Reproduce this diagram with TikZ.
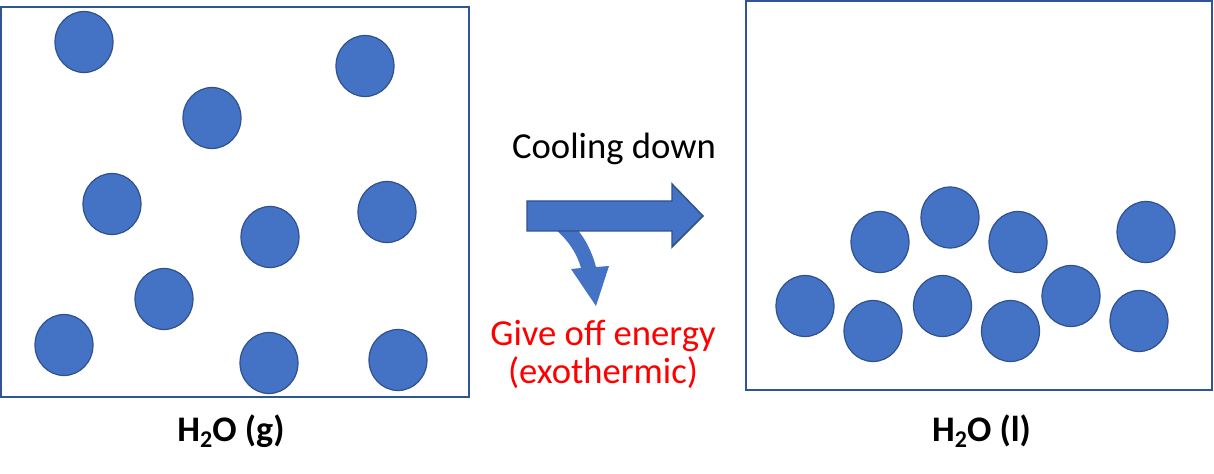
\documentclass[tikz,border=0pt]{standalone}
\usepackage{fontspec}
\setmainfont{Carlito}
\usetikzlibrary{shapes.geometric}
\definecolor{molfill}{HTML}{4472C4}
\definecolor{molline}{HTML}{2F528F}
\definecolor{boxline}{HTML}{2F5597}
\definecolor{txtred}{HTML}{FF0000}
\newcommand{\subtwo}{\raisebox{-5pt}{\fontsize{18}{18}\selectfont 2}}
\tikzset{
  mol/.style={ellipse,minimum width=43.5pt,minimum height=45.75pt,inner sep=0pt,fill=molfill,draw=molline,line width=0.9pt},
  container/.style={draw=boxline,line width=1.5pt,fill=white},
  lbl/.style={font=\fontsize{27.5}{33}\selectfont,anchor=base,inner sep=0pt},
  redlbl/.style={lbl,text=txtred},
  boldlbl/.style={font=\fontsize{27}{32}\selectfont\bfseries,anchor=base,inner sep=0pt},
}
\begin{document}
\begin{tikzpicture}[x=0.75pt,y=-0.75pt]
\useasboundingbox (0,0) rectangle (1214,474);
% containers
\draw[container] (1,7) rectangle (469,397);
\draw[container] (746,1) rectangle (1212,390);
% gas molecules
\node[mol] (g1) at (84,42) {};
\node[mol] (g2) at (365,66) {};
\node[mol] (g3) at (212,118) {};
\node[mol] (g4) at (112,204) {};
\node[mol] (g5) at (387,212) {};
\node[mol] (g6) at (270,237) {};
\node[mol] (g7) at (164,299) {};
\node[mol] (g8) at (64,345) {};
\node[mol] (g9) at (269,363) {};
\node[mol] (g10) at (398,360) {};
% liquid molecules
\node[mol] (l1) at (880,242) {};
\node[mol] (l2) at (950,217.5) {};
\node[mol] (l3) at (1018,242) {};
\node[mol] (l4) at (1146,232) {};
\node[mol] (l5) at (805,306) {};
\node[mol] (l6) at (873,331) {};
\node[mol] (l7) at (942.5,306) {};
\node[mol] (l8) at (1010.5,331) {};
\node[mol] (l9) at (1071,296) {};
\node[mol] (l10) at (1139,321) {};
% curved arrow (energy released)
\fill[molfill] (555,229) .. controls (567,239) and (577,253) .. (581,268)
  -- (571,269) -- (596,306) -- (609,266) -- (596,267)
  .. controls (592,252) and (586,240) .. (577,229) -- cycle;
% main arrow
\draw[fill=molfill,draw=molline,line width=1.1pt,line join=miter]
  (527,201) -- (672,201) -- (672,184) -- (703,216) -- (672,247) -- (672,231) -- (527,231) -- cycle;
% texts
\node[lbl] (cool) at (614,159) {Cooling down};
\node[redlbl] (e1) at (603,345) {Give off energy};
\node[redlbl] (e2) at (603,383) {(exothermic)};
\node[boldlbl] (gas) at (231,441) {H\subtwo O (g)};
\node[boldlbl] (liq) at (981.5,441) {H\subtwo O (l)};
\end{tikzpicture}
\end{document}
